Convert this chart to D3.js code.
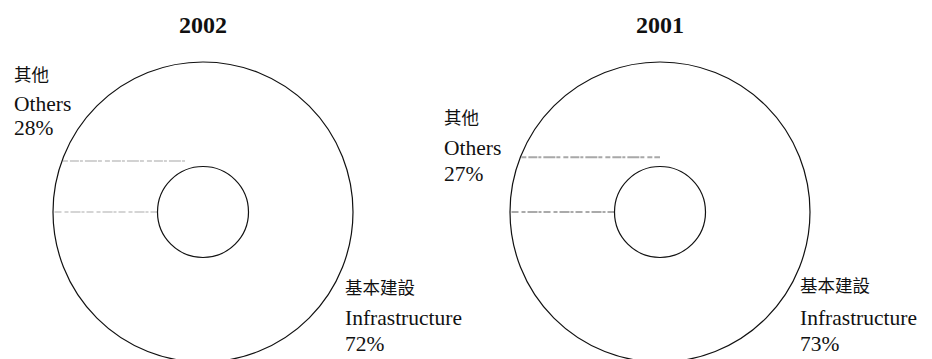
<!DOCTYPE html>
<html>
<head>
<meta charset="utf-8">
<script src="https://cdn.jsdelivr.net/npm/d3@7"></script>
<style>
  html, body { margin: 0; padding: 0; background: #fff; }
  svg { display: block; }
</style>
</head>
<body>
<svg id="chart" width="932" height="359"></svg>
<script>
// Spending breakdown, two years side by side
const years = ["2002", "2001"];
const categoriesZh = ["其他", "基本建設"];
const categoriesEn = ["Others", "Infrastructure"];
const values2002 = [28, 72];
const values2001 = [27, 73];
const seriesValues = [values2002, values2001];

// Layout of each donut: centre, and where each slice label block sits
const layouts = [
  {
    cx: 203, cy: 212,
    labels: [
      { x: 14, y: [81, 111, 135] },
      { x: 345, y: [294, 325, 351] }
    ],
    hatch: { dy: -0.34, x1: -0.12, color: "#c4c4c4", width: 1.3 },
    edgeColor: "#c8c8c8"
  },
  {
    cx: 660, cy: 212,
    labels: [
      { x: 444, y: [124, 155, 181] },
      { x: 800, y: [292, 325, 351] }
    ],
    hatch: { dy: -0.365, x1: 0.0, color: "#a8a8a8", width: 2 },
    edgeColor: "#aaaaaa"
  }
];

const outerR = 150;
const innerR = 45.5;
const latinFont = "'Liberation Serif', 'DejaVu Serif', serif";
const cjkFont = "'Noto Sans CJK TC', 'Noto Sans CJK SC', sans-serif";

const svg = d3.select("#chart");

const pie = d3.pie()
  .sort(null)
  .value(d => d)
  .startAngle(-Math.PI / 2)
  .endAngle(-Math.PI / 2 + 2 * Math.PI);

const arc = d3.arc().innerRadius(innerR).outerRadius(outerR);

years.forEach((year, i) => {
  const L = layouts[i];
  const slices = pie(seriesValues[i]);
  const g = svg.append("g").attr("transform", `translate(${L.cx},${L.cy})`);

  // Slices (plain white fill)
  g.selectAll("path.slice")
    .data(slices)
    .join("path")
    .attr("class", "slice")
    .attr("d", arc)
    .attr("fill", "#fff")
    .attr("stroke", "none");

  // Light hatch stroke across the "Others" slice
  const hy = L.hatch.dy * outerR;
  const hx0 = -Math.sqrt(outerR * outerR - hy * hy);
  g.append("line")
    .attr("x1", hx0 + 1).attr("y1", hy)
    .attr("x2", L.hatch.x1 * outerR).attr("y2", hy)
    .attr("stroke", L.hatch.color)
    .attr("stroke-width", L.hatch.width)
    .attr("stroke-dasharray", "5 2 9 1 3 2 12 1 4 3");

  // Faint edge where the "Others" slice begins
  const a = slices[0].startAngle;
  g.append("line")
    .attr("x1", innerR * Math.sin(a)).attr("y1", -innerR * Math.cos(a))
    .attr("x2", (outerR - 1) * Math.sin(a)).attr("y2", -(outerR - 1) * Math.cos(a))
    .attr("stroke", L.edgeColor)
    .attr("stroke-width", L.hatch.width)
    .attr("stroke-dasharray", "7 2 3 1 10 2 4 3");

  // Ring outlines
  [outerR, innerR].forEach(r => {
    g.append("circle")
      .attr("r", r)
      .attr("fill", "none")
      .attr("stroke", "#111")
      .attr("stroke-width", 1.2);
  });

  // Year title
  svg.append("text")
    .attr("x", L.cx).attr("y", 33)
    .attr("text-anchor", "middle")
    .attr("font-family", latinFont)
    .attr("font-weight", "bold")
    .attr("font-size", 24)
    .attr("fill", "#111")
    .text(year);

  // Slice labels: Chinese name, English name, share
  slices.forEach((s, k) => {
    const pos = L.labels[k];
    const t = svg.append("g");
    t.append("text")
      .attr("x", pos.x).attr("y", pos.y[0])
      .attr("font-family", cjkFont)
      .attr("font-size", 17.5)
      .attr("fill", "#111")
      .text(categoriesZh[k]);
    t.append("text")
      .attr("x", pos.x).attr("y", pos.y[1])
      .attr("font-family", latinFont)
      .attr("font-size", 21.5)
      .attr("fill", "#111")
      .text(categoriesEn[k]);
    t.append("text")
      .attr("x", pos.x).attr("y", pos.y[2])
      .attr("font-family", latinFont)
      .attr("font-size", 21.5)
      .attr("fill", "#111")
      .text(`${s.data}%`);
  });
});
</script>
</body>
</html>
